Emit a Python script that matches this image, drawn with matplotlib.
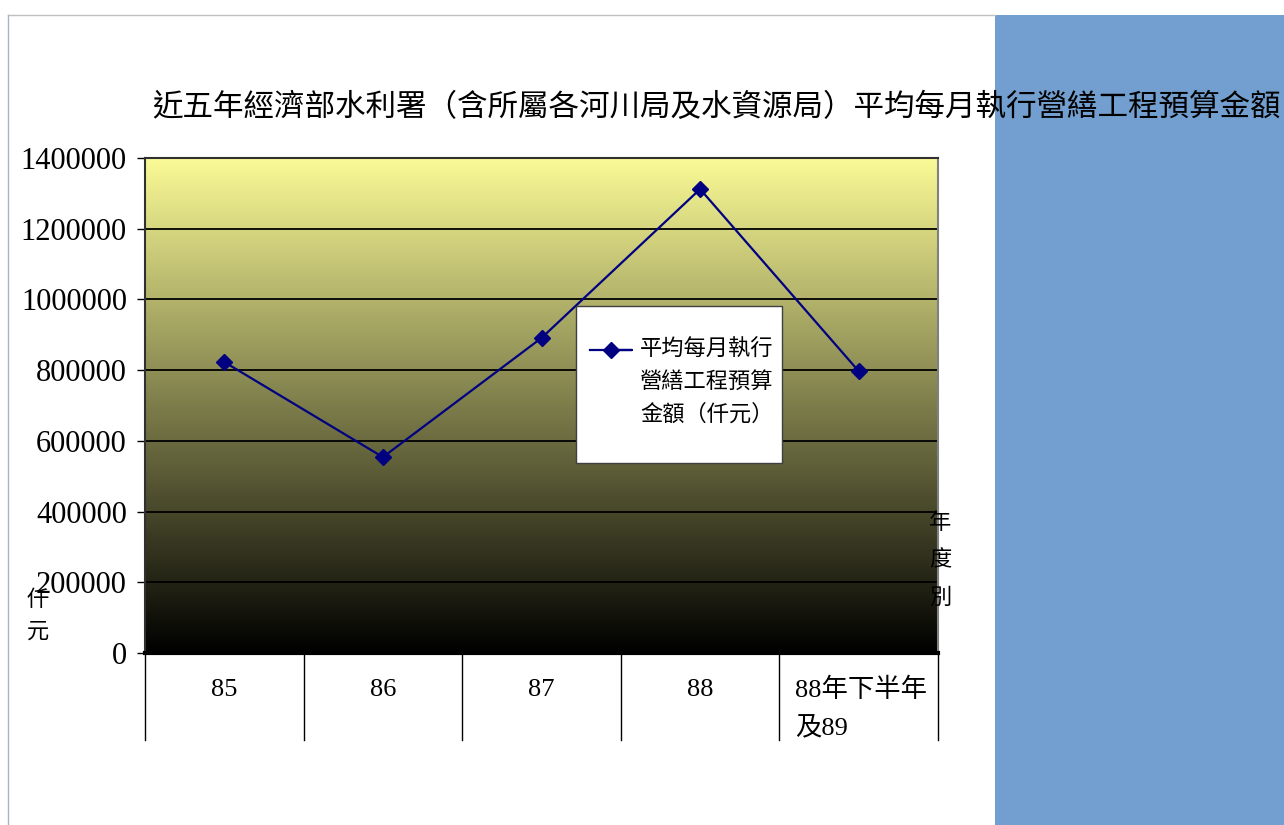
import numpy as np
import matplotlib
matplotlib.use("Agg")
import matplotlib.pyplot as plt
from matplotlib.patches import Rectangle
from matplotlib.colors import LinearSegmentedColormap
from matplotlib.lines import Line2D

plt.rcParams['font.family'] = ['Liberation Serif', 'Noto Sans CJK TC']

# 資料
categories = ['85', '86', '87', '88', '88年下半年\n及89']
values = [823000, 554000, 891000, 1312000, 797000]
yticks = [0, 200000, 400000, 600000, 800000, 1000000, 1200000, 1400000]
title = '近五年經濟部水利署（含所屬各河川局及水資源局）平均每月執行營繕工程預算金額'
series_name = '平均每月執行\n營繕工程預算\n金額（仟元）'

W, H = 1284, 825
fig = plt.figure(figsize=(W / 100, H / 100), dpi=100)
fig.patch.set_facecolor('white')

# 外框與右側藍色區塊
fig.add_artist(Line2D([8 / W, 995 / W], [1 - 15 / H, 1 - 15 / H], color='#c0c0c0', lw=1))
fig.add_artist(Line2D([8 / W, 8 / W], [0, 1 - 15 / H], color='#a8b4cc', lw=1))
fig.add_artist(Rectangle((995 / W, 0), (W - 995) / W, 1 - 15 / H,
                         transform=fig.transFigure, facecolor='#729fcf', edgecolor='none', zorder=-1))

ax = fig.add_axes([145 / W, 1 - 653 / H, 793 / W, 495 / H])
x = np.arange(len(categories))
ax.set_xlim(-0.5, len(categories) - 0.5)
ax.set_ylim(0, 1400000)

# 漸層背景 (黃 -> 黑)
cmap = LinearSegmentedColormap.from_list('yb', ['#000000', '#fafa96'])
grad = np.linspace(0, 1, 256).reshape(-1, 1)
ax.imshow(grad, cmap=cmap, aspect='auto', origin='lower',
          extent=[-0.5, len(categories) - 0.5, 0, 1400000], zorder=0)

for t in yticks[1:]:
    ax.axhline(t, color='black', lw=1.3, zorder=1)

line_style = dict(color='#000080', lw=1.6, marker='D', markersize=8)
ax.plot(x, values, zorder=3, **line_style)

ax.set_yticks(yticks)
ax.set_yticklabels([str(t) for t in yticks], fontsize=22)
ax.tick_params(axis='y', direction='out', length=6, width=1, pad=7)
ax.set_xticks([])
ax.spines['top'].set_color('#303030')
ax.spines['left'].set_color('#303030')
ax.spines['right'].set_color('#808080')
ax.spines['bottom'].set_linewidth(3)
ax.spines['bottom'].set_color('black')
for s in ['top', 'left', 'right']:
    ax.spines[s].set_linewidth(1.5)

# 類別表格
trans = ax.get_xaxis_transform()
for b in np.arange(-0.5, len(categories), 1.0):
    ax.plot([b, b], [0, -87 / 495], color='black', lw=1, transform=trans, clip_on=False)
for i, c in enumerate(categories):
    if '\n' in c:
        ax.text(i - 0.5 + 16 / 158.6, -25 / 495, c, transform=trans, fontsize=19,
                ha='left', va='top', linespacing=1.8)
        continue
    ax.text(i, -37 / 495, c, transform=trans, fontsize=19, ha='center', va='center')

# 標題與軸標
fig.text(152 / W, 1 - 108 / H, title, fontsize=22, ha='left', va='center', zorder=5)
fig.text(38 / W, 1 - 617 / H, '仟\n元', fontsize=16, ha='center', va='center', linespacing=1.85)
fig.text(940 / W, 1 - 561 / H, '年\n度\n別', fontsize=16, ha='center', va='center', linespacing=2.1)

# 圖例
fig.add_artist(Rectangle((576 / W, 1 - 463 / H), 206 / W, 157 / H, transform=fig.transFigure,
                         facecolor='white', edgecolor='#404040', lw=1, zorder=5))
fig.add_artist(Line2D([590 / W, 632 / W, 611 / W], [1 - 350 / H] * 3, markevery=[2],
                      zorder=6, **line_style))
fig.text(640 / W, 1 - 340 / H, series_name, fontsize=16, ha='left', va='top',
         linespacing=1.7, zorder=6)

fig.savefig('out.png', dpi=100)
